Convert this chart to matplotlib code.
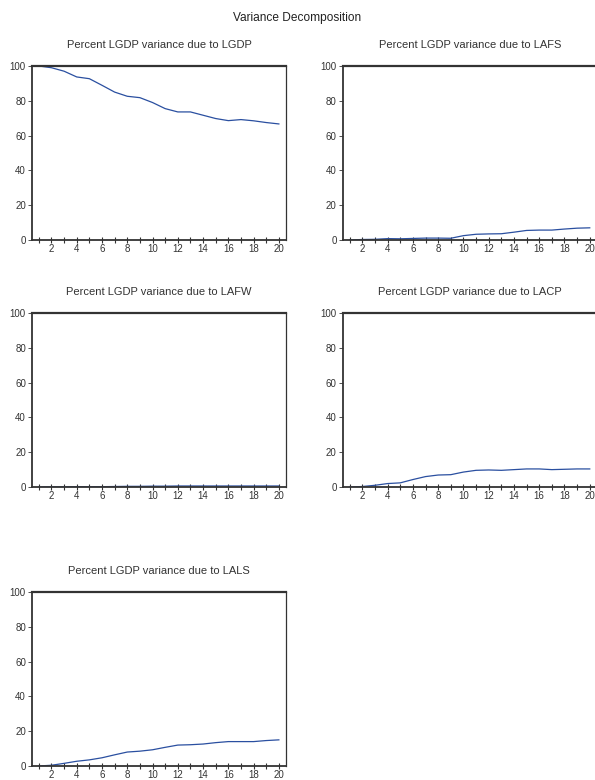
import numpy as np
import matplotlib
matplotlib.use("Agg")
from matplotlib import pyplot as plt

plt.rcParams["font.family"] = ["Liberation Sans", "DejaVu Sans"]

steps = list(range(1, 21))

lgdp = [100.0, 99.0, 97.0, 93.7, 92.7, 88.9, 85.0, 82.6, 81.8, 79.0,
        75.5, 73.6, 73.6, 71.7, 69.8, 68.6, 69.2, 68.5, 67.5, 66.7]
lafs = [0.0, 0.3, 0.4, 0.8, 0.7, 0.9, 1.1, 1.1, 1.0, 2.5,
        3.3, 3.5, 3.6, 4.5, 5.5, 5.7, 5.7, 6.3, 6.8, 7.0]
lafw = [0.0, 0.1, 0.1, 0.2, 0.2, 0.2, 0.3, 0.4, 0.4, 0.5,
        0.5, 0.6, 0.6, 0.6, 0.6, 0.6, 0.6, 0.6, 0.6, 0.6]
lacp = [0.0, 0.3, 1.0, 2.0, 2.4, 4.3, 6.0, 6.9, 7.1, 8.6,
        9.6, 9.8, 9.6, 10.0, 10.4, 10.4, 10.0, 10.2, 10.4, 10.4]
lals = [0.0, 0.4, 1.5, 2.7, 3.5, 4.7, 6.4, 8.0, 8.5, 9.3,
        10.7, 12.0, 12.2, 12.6, 13.4, 14.0, 14.0, 14.0, 14.6, 15.0]

names = ["LGDP", "LAFS", "LAFW", "LACP", "LALS"]
series = [lgdp, lafs, lafw, lacp, lals]

# axes boxes in figure fraction: left, bottom, width, height
lefts = [0.054, 0.5765]
bottoms = [0.6923, 0.3756, 0.018]
w, h = 0.427, 0.2231

fig = plt.figure(figsize=(5.95, 7.8), dpi=100)
fig.text(0.5, 0.977, "Variance Decomposition", ha="center", va="center",
         fontsize=8.6, color="#222222")

spine_col = "#333333"
for i, (name, vals) in enumerate(zip(names, series)):
    r, c = divmod(i, 2)
    ax = fig.add_axes([lefts[c], bottoms[r], w, h])
    ax.plot(steps, vals, color="#2a4fa0", lw=0.9)
    ax.set_xlim(0.47, 20.58)
    ax.set_ylim(0, 100)
    ax.set_yticks([0, 20, 40, 60, 80, 100])
    ax.set_xticks(range(2, 21, 2))
    ax.set_xticks(range(1, 21), minor=True)
    ax.tick_params(axis="y", direction="out", length=3, width=0.6,
                   labelsize=7, colors="#333333", pad=1.5)
    ax.tick_params(axis="x", which="both", direction="inout", length=5,
                   width=0.8, labelsize=7, colors="#333333", pad=0.5)
    for s in ["left", "bottom", "top"]:
        ax.spines[s].set_color(spine_col)
        ax.spines[s].set_linewidth(1.3)
    ax.spines["top"].set_linewidth(1.6)
    ax.spines["right"].set_color(spine_col)
    ax.spines["right"].set_linewidth(0.9)
    ax.set_title("Percent LGDP variance due to " + name, fontsize=8,
                 color="#333333", pad=13)

plt.savefig("out.png", dpi=100)
